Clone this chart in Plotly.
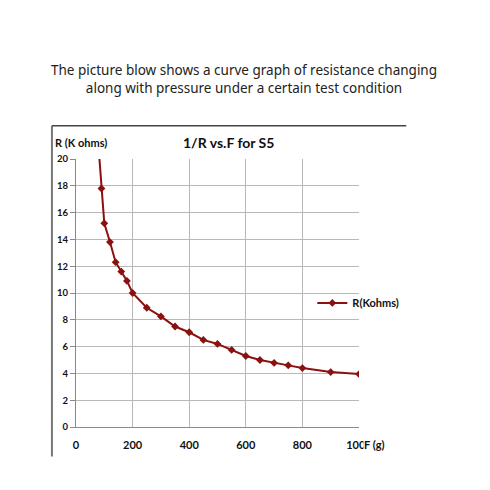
import plotly.graph_objects as go

# force F (g) vs resistance R (K ohms)
force_g = [80, 90, 100, 120, 140, 160, 180, 200, 250, 300, 350, 400, 450,
           500, 550, 600, 650, 700, 750, 800, 900, 1000]
r_kohms = [20.8, 17.8, 15.2, 13.8, 12.3, 11.6, 10.9, 10.0, 8.9, 8.25, 7.5,
           7.07, 6.5, 6.2, 5.75, 5.3, 5.0, 4.78, 4.6, 4.4, 4.1, 3.95]

x_ticks = [0, 200, 400, 600, 800, 1000]
y_ticks = [0, 2, 4, 6, 8, 10, 12, 14, 16, 18, 20]

RED = "#8b1010"
FONT = "Lato"

fig = go.Figure()
fig.add_trace(go.Scatter(
    x=force_g, y=r_kohms,
    mode="lines+markers",
    name="R(Kohms)",
    line=dict(color=RED, width=2),
    marker=dict(symbol="diamond", size=6, color=RED),
))

# page body has an 8px margin, margins below account for it
fig.update_layout(
    width=490, height=490, autosize=False,
    margin=dict(l=68, r=139, t=151, b=71),
    paper_bgcolor="white",
    plot_bgcolor="white",
    font=dict(family=FONT, size=10, color="#111111"),
    showlegend=True,
    legend=dict(
        x=0.835, y=0.463, xanchor="left", yanchor="middle",
        font=dict(family=FONT, size=11, color="#111111", weight="bold"),
        itemwidth=30, bgcolor="rgba(0,0,0,0)",
    ),
)

fig.update_xaxes(
    range=[0, 1000], tickvals=x_ticks, ticktext=["0", "200", "400", "600", "800", "1000"],
    showgrid=True, gridcolor="#b8b8b8", gridwidth=1,
    showline=True, linecolor="#8a8a8a", linewidth=1,
    zeroline=False, ticks="outside", ticklen=8, tickcolor="white",
    tickfont=dict(family=FONT, size=11, weight="bold", color="#111111"),
)
fig.update_yaxes(
    range=[0, 20], tickvals=y_ticks,
    showgrid=True, gridcolor="#b8b8b8", gridwidth=1,
    showline=True, linecolor="#8a8a8a", linewidth=1,
    zeroline=False, ticks="outside", ticklen=5, tickcolor="#8a8a8a",
    tickfont=dict(family=FONT, size=9.5, weight="bold", color="#111111"),
)

# frame of the excel chart (left and top edges)
fig.add_shape(type="line", xref="paper", yref="paper",
              x0=-0.085, x1=-0.085, y0=-0.11, y1=1.124,
              line=dict(color="#777777", width=2))
fig.add_shape(type="line", xref="paper", yref="paper",
              x0=-0.085, x1=1.167, y0=1.124, y1=1.124,
              line=dict(color="#444444", width=1.5))

fig.add_annotation(
    text="The picture blow shows a curve graph of resistance changing<br>along with pressure under a certain test condition",
    xref="paper", yref="paper", x=0.592, y=1.297, xanchor="center", yanchor="middle",
    showarrow=False, font=dict(family="Noto Sans", size=13.5, color="#222222"),
)
fig.add_annotation(
    text="1/R vs.F for S5", xref="paper", yref="paper", x=0.54, y=1.06,
    xanchor="center", yanchor="middle", showarrow=False,
    font=dict(family=FONT, size=14, weight="bold", color="#111111"),
)
fig.add_annotation(
    text="R (K ohms)", xref="paper", yref="paper", x=-0.083, y=1.06,
    xanchor="left", yanchor="middle", showarrow=False,
    font=dict(family=FONT, size=11, weight="bold", color="#111111"),
)
fig.add_annotation(
    text="F (g)", xref="paper", yref="paper", x=1.0, y=-0.067,
    xanchor="left", yanchor="middle", showarrow=False, xshift=4,
    bgcolor="white", borderpad=0,
    font=dict(family=FONT, size=11, weight="bold", color="#111111"),
)

fig.write_html("out.html")
